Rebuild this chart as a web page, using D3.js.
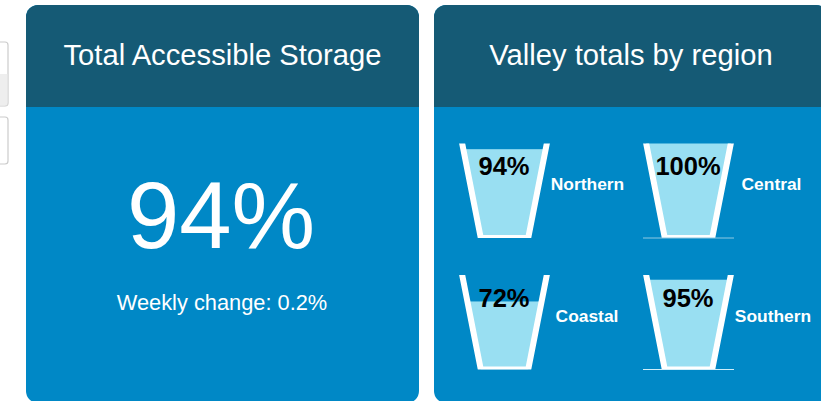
<!DOCTYPE html>
<html>
<head>
<meta charset="utf-8">
<script src="https://cdnjs.cloudflare.com/ajax/libs/d3/7.8.5/d3.min.js"></script>
<style>
  html, body { margin: 0; padding: 0; background: #fff; overflow: hidden; }
  text { font-family: "Liberation Sans", Arial, sans-serif; }
</style>
</head>
<body>
<div id="vis"></div>
<script>
const totalTitle = "Total Accessible Storage";
const regionTitle = "Valley totals by region";
const totalValue = 94;
const weeklyChange = 0.2;

const regions = ["Northern", "Central", "Coastal", "Southern"];
const percents = [94, 100, 72, 95];

const headerColor = "#155a75";
const bodyColor = "#0088c6";
const waterColor = "#99dff2";

var svg = d3.select("#vis").append("svg")
  .attr("width", 821).attr("height", 401)
  .style("display", "block");

// bits of the page's side controls that stick out on the left
svg.append("rect").attr("x", -20).attr("y", 42).attr("width", 28).attr("height", 64).attr("rx", 3)
  .attr("fill", "#fff").attr("stroke", "#ccc").attr("stroke-width", 1.2);
svg.append("rect").attr("x", -20).attr("y", 74).attr("width", 27.4).attr("height", 31.4)
  .attr("fill", "#eee");
svg.append("rect").attr("x", -20).attr("y", 117).attr("width", 28).attr("height", 47).attr("rx", 3)
  .attr("fill", "#fff").attr("stroke", "#ccc").attr("stroke-width", 1.2);

function drawCard(x, width, title) {
  var card = svg.append("g").attr("transform", "translate(" + x + ",5)");
  card.append("rect").attr("width", width).attr("height", 398).attr("rx", 12).attr("fill", bodyColor);
  card.append("path").attr("fill", headerColor)
    .attr("d", "M0,102V12A12,12 0 0 1 12,0H" + (width - 12) + "A12,12 0 0 1 " + width + ",12V102Z");
  card.append("text").attr("x", width / 2).attr("y", 60)
    .attr("text-anchor", "middle").attr("font-size", 29.2).attr("fill", "#fff")
    .text(title);
}

drawCard(26, 393, totalTitle);
drawCard(434, 394, regionTitle);

svg.append("text").attr("x", 221).attr("y", 248)
  .attr("text-anchor", "middle").attr("font-size", 94).attr("fill", "#fff")
  .text(totalValue + "%");
svg.append("text").attr("x", 222).attr("y", 310)
  .attr("text-anchor", "middle").attr("font-size", 21.8).attr("fill", "#fff")
  .text("Weekly change: " + weeklyChange + "%");

// cups
var cupX = d3.scaleOrdinal().domain(regions).range([459, 643, 459, 643]);
var cupY = d3.scaleOrdinal().domain(regions).range([143.5, 143.5, 275, 275]);
var labelX = d3.scaleOrdinal().domain(regions).range([128.5, 128.5, 128, 130]);
var cupW = 91, cupH = 94.5;
var level = d3.scaleLinear().domain([0, 100]).range([cupH, 0]);

// cup side as one line, runs a bit past the top so the clip squares it off
var cupLine = d3.line();
var cupShape = [[2, -6], [21.8, cupH], [cupW - 21.8, cupH], [cupW - 2, -6]];

var defs = svg.append("defs");
defs.append("clipPath").attr("id", "cup-inside").append("path")
  .attr("d", cupLine(cupShape) + "Z");
defs.append("clipPath").attr("id", "cup-box").append("rect")
  .attr("width", cupW + 2).attr("x", -1).attr("height", cupH);

var cups = svg.selectAll(".cup").data(regions).join("g")
  .attr("class", "cup")
  .attr("transform", d => "translate(" + cupX(d) + "," + cupY(d) + ")");

cups.append("rect")
  .attr("clip-path", "url(#cup-inside)")
  .attr("x", 0)
  .attr("width", cupW)
  .attr("y", (d, i) => level(percents[i]))
  .attr("height", (d, i) => cupH - level(percents[i]))
  .attr("fill", waterColor);

cups.append("g").attr("clip-path", "url(#cup-box)").append("path")
  .attr("d", cupLine(cupShape))
  .attr("fill", "none").attr("stroke", "#fff").attr("stroke-width", 6);

// thin base line under the right hand cups
cups.filter((d, i) => i % 2 == 1).append("line")
  .attr("x1", 0).attr("x2", cupW)
  .attr("y1", cupH).attr("y2", cupH)
  .attr("stroke", (d, i) => i == 0 ? "#8fc9e2" : "#cfeefa").attr("stroke-width", 1);

cups.append("text")
  .attr("x", cupW / 2 - 0.5).attr("y", 31.5)
  .attr("text-anchor", "middle").attr("font-size", 25.5).attr("font-weight", "bold").attr("fill", "#000")
  .text((d, i) => percents[i] + "%");

cups.append("text")
  .attr("x", d => labelX(d)).attr("y", 46.5)
  .attr("text-anchor", "middle").attr("font-size", 17.4).attr("font-weight", "bold").attr("fill", "#fff")
  .text(d => d);
</script>
</body>
</html>
